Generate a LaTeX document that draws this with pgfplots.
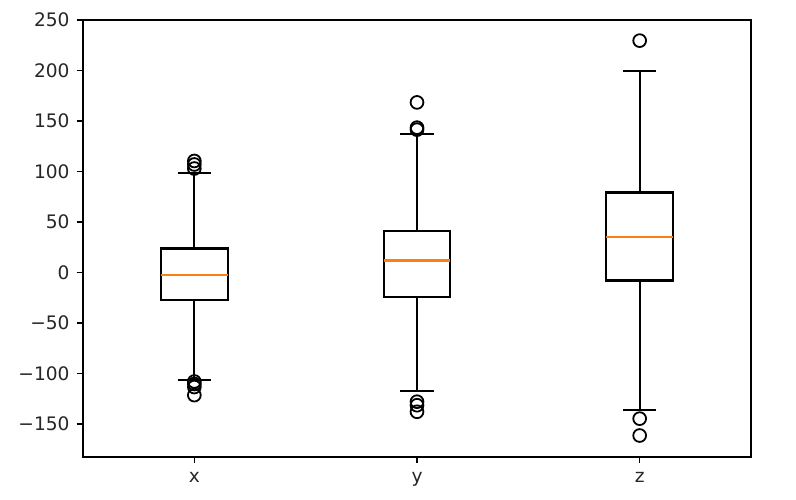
\documentclass[border=0pt]{standalone}
\usepackage{fontspec}
\setmainfont{DejaVu Sans}
\usepackage{pgfplots}
\pgfplotsset{compat=1.18}
\definecolor{mplorange}{HTML}{FF7F0E}
\definecolor{txt}{HTML}{262626}
\begin{document}
\begin{tikzpicture}
\begin{axis}[
  at={(0,0)}, anchor=south west,
  scale only axis,
  width=334bp, height=218.3bp,
  xmin=0.5, xmax=3.5,
  ymin=-182.5, ymax=250.05,
  xtick={1,2,3}, xticklabels={x,y,z},
  ytick={-150,-100,-50,0,50,100,150,200,250},
  yticklabels={−150,−100,−50,0,50,100,150,200,250},
  tick align=outside,
  major tick length=3.2bp,
  tick style={line width=0.8bp, black},
  axis line style={line width=0.8bp, black},
  tick label style={font=\fontsize{9.3bp}{11bp}\selectfont, text=txt},
  xticklabel style={yshift=-1bp},
  xtick pos=bottom, ytick pos=left,
  unbounded coords=jump,
  box/.style={black, line width=1.05bp, mark=none},
  med/.style={mplorange, line width=1.05bp, mark=none},
  out/.style={only marks, mark=o, mark size=3.2bp, mark options={line width=0.9bp, draw=black, fill=none}},
]
% --- x (position 1)
\addplot[box] coordinates {(1,23.8) (1,99) (nan,nan) (0.925,99) (1.075,99) (nan,nan)
  (1,-27.7) (1,-106.5) (nan,nan) (0.925,-106.5) (1.075,-106.5)};
\addplot[box] coordinates {(0.85,-27.7) (1.15,-27.7) (1.15,23.8) (0.85,23.8)} -- cycle;
\addplot[med] coordinates {(0.85,-2.3) (1.15,-2.3)};
\addplot[out] coordinates {(1,110.5) (1,107) (1,103) (1,-108) (1,-110.5) (1,-113.5) (1,-121.5)};
% --- y (position 2)
\addplot[box] coordinates {(2,41.3) (2,137.3) (nan,nan) (1.925,137.3) (2.075,137.3) (nan,nan)
  (2,-24.4) (2,-117.1) (nan,nan) (1.925,-117.1) (2.075,-117.1)};
\addplot[box] coordinates {(1.85,-24.4) (2.15,-24.4) (2.15,41.3) (1.85,41.3)} -- cycle;
\addplot[med] coordinates {(1.85,11.9) (2.15,11.9)};
\addplot[out] coordinates {(2,168.5) (2,143.5) (2,141.5) (2,-128) (2,-131.5) (2,-138)};
% --- z (position 3)
\addplot[box] coordinates {(3,79.2) (3,199.7) (nan,nan) (2.925,199.7) (3.075,199.7) (nan,nan)
  (3,-7.9) (3,-136.6) (nan,nan) (2.925,-136.6) (3.075,-136.6)};
\addplot[box] coordinates {(2.85,-7.9) (3.15,-7.9) (3.15,79.2) (2.85,79.2)} -- cycle;
\addplot[med] coordinates {(2.85,35.3) (3.15,35.3)};
\addplot[out] coordinates {(3,229.7) (3,-144.8) (3,-161.5)};
\end{axis}
\pgfresetboundingbox
\path (-41.5bp,-21.65bp) rectangle (356.5bp,228.35bp);
\end{tikzpicture}
\end{document}
